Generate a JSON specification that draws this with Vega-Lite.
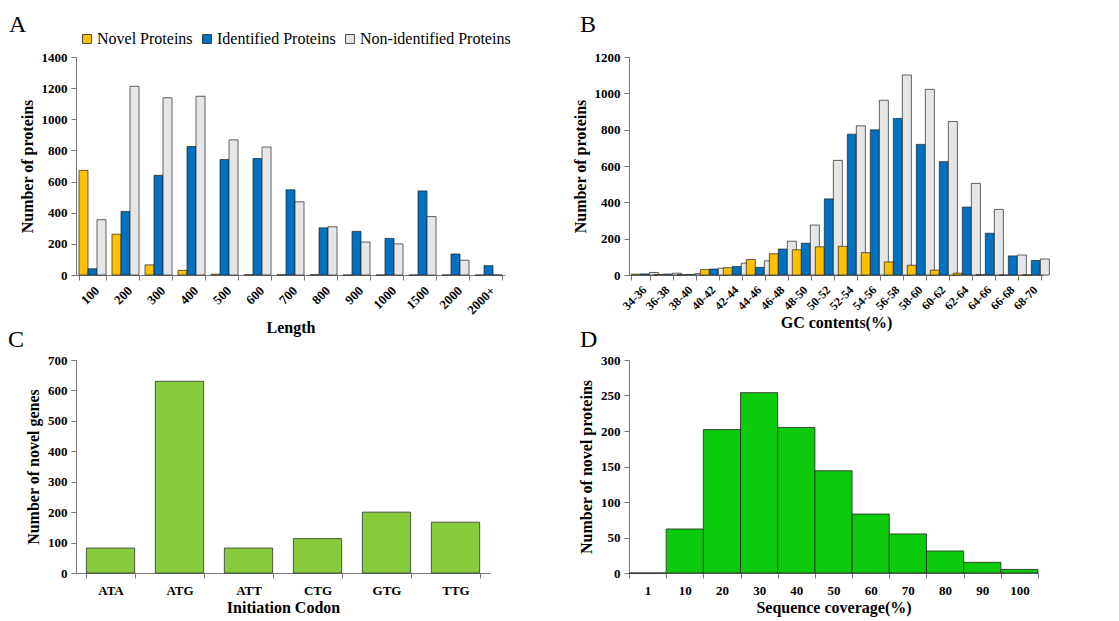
{
  "$schema": "https://vega.github.io/schema/vega-lite/v6.json",
  "background": "white",
  "padding": {"left": 8, "top": 13, "right": 5, "bottom": 5},
  "datasets": {
    "lengthData": [
      {"length": "100", "type": "Novel Proteins", "count": 672},
      {"length": "100", "type": "Identified Proteins", "count": 40},
      {"length": "100", "type": "Non-identified Proteins", "count": 355},
      {"length": "200", "type": "Novel Proteins", "count": 262},
      {"length": "200", "type": "Identified Proteins", "count": 408},
      {"length": "200", "type": "Non-identified Proteins", "count": 1212},
      {"length": "300", "type": "Novel Proteins", "count": 65},
      {"length": "300", "type": "Identified Proteins", "count": 640},
      {"length": "300", "type": "Non-identified Proteins", "count": 1138},
      {"length": "400", "type": "Novel Proteins", "count": 30},
      {"length": "400", "type": "Identified Proteins", "count": 825},
      {"length": "400", "type": "Non-identified Proteins", "count": 1148},
      {"length": "500", "type": "Novel Proteins", "count": 5},
      {"length": "500", "type": "Identified Proteins", "count": 742},
      {"length": "500", "type": "Non-identified Proteins", "count": 868},
      {"length": "600", "type": "Novel Proteins", "count": 2},
      {"length": "600", "type": "Identified Proteins", "count": 748},
      {"length": "600", "type": "Non-identified Proteins", "count": 822},
      {"length": "700", "type": "Novel Proteins", "count": 2},
      {"length": "700", "type": "Identified Proteins", "count": 547},
      {"length": "700", "type": "Non-identified Proteins", "count": 470},
      {"length": "800", "type": "Novel Proteins", "count": 2},
      {"length": "800", "type": "Identified Proteins", "count": 303},
      {"length": "800", "type": "Non-identified Proteins", "count": 310},
      {"length": "900", "type": "Novel Proteins", "count": 0},
      {"length": "900", "type": "Identified Proteins", "count": 280},
      {"length": "900", "type": "Non-identified Proteins", "count": 212},
      {"length": "1000", "type": "Novel Proteins", "count": 0},
      {"length": "1000", "type": "Identified Proteins", "count": 235},
      {"length": "1000", "type": "Non-identified Proteins", "count": 200},
      {"length": "1500", "type": "Novel Proteins", "count": 0},
      {"length": "1500", "type": "Identified Proteins", "count": 540},
      {"length": "1500", "type": "Non-identified Proteins", "count": 375},
      {"length": "2000", "type": "Novel Proteins", "count": 0},
      {"length": "2000", "type": "Identified Proteins", "count": 135},
      {"length": "2000", "type": "Non-identified Proteins", "count": 95},
      {"length": "2000+", "type": "Novel Proteins", "count": 0},
      {"length": "2000+", "type": "Identified Proteins", "count": 60},
      {"length": "2000+", "type": "Non-identified Proteins", "count": 0}
    ],
    "gcData": [
      {"gc": "34-36", "type": "Novel Proteins", "count": 5},
      {"gc": "34-36", "type": "Identified Proteins", "count": 6},
      {"gc": "34-36", "type": "Non-identified Proteins", "count": 14},
      {"gc": "36-38", "type": "Novel Proteins", "count": 3},
      {"gc": "36-38", "type": "Identified Proteins", "count": 5},
      {"gc": "36-38", "type": "Non-identified Proteins", "count": 10},
      {"gc": "38-40", "type": "Novel Proteins", "count": 2},
      {"gc": "38-40", "type": "Identified Proteins", "count": 3},
      {"gc": "38-40", "type": "Non-identified Proteins", "count": 8},
      {"gc": "40-42", "type": "Novel Proteins", "count": 30},
      {"gc": "40-42", "type": "Identified Proteins", "count": 33},
      {"gc": "40-42", "type": "Non-identified Proteins", "count": 37},
      {"gc": "42-44", "type": "Novel Proteins", "count": 40},
      {"gc": "42-44", "type": "Identified Proteins", "count": 47},
      {"gc": "42-44", "type": "Non-identified Proteins", "count": 65},
      {"gc": "44-46", "type": "Novel Proteins", "count": 85},
      {"gc": "44-46", "type": "Identified Proteins", "count": 42},
      {"gc": "44-46", "type": "Non-identified Proteins", "count": 78},
      {"gc": "46-48", "type": "Novel Proteins", "count": 117},
      {"gc": "46-48", "type": "Identified Proteins", "count": 143},
      {"gc": "46-48", "type": "Non-identified Proteins", "count": 186},
      {"gc": "48-50", "type": "Novel Proteins", "count": 139},
      {"gc": "48-50", "type": "Identified Proteins", "count": 175},
      {"gc": "48-50", "type": "Non-identified Proteins", "count": 275},
      {"gc": "50-52", "type": "Novel Proteins", "count": 155},
      {"gc": "50-52", "type": "Identified Proteins", "count": 419},
      {"gc": "50-52", "type": "Non-identified Proteins", "count": 631},
      {"gc": "52-54", "type": "Novel Proteins", "count": 158},
      {"gc": "52-54", "type": "Identified Proteins", "count": 775},
      {"gc": "52-54", "type": "Non-identified Proteins", "count": 821},
      {"gc": "54-56", "type": "Novel Proteins", "count": 123},
      {"gc": "54-56", "type": "Identified Proteins", "count": 799},
      {"gc": "54-56", "type": "Non-identified Proteins", "count": 962},
      {"gc": "56-58", "type": "Novel Proteins", "count": 72},
      {"gc": "56-58", "type": "Identified Proteins", "count": 862},
      {"gc": "56-58", "type": "Non-identified Proteins", "count": 1101},
      {"gc": "58-60", "type": "Novel Proteins", "count": 54},
      {"gc": "58-60", "type": "Identified Proteins", "count": 719},
      {"gc": "58-60", "type": "Non-identified Proteins", "count": 1022},
      {"gc": "60-62", "type": "Novel Proteins", "count": 27},
      {"gc": "60-62", "type": "Identified Proteins", "count": 624},
      {"gc": "60-62", "type": "Non-identified Proteins", "count": 845},
      {"gc": "62-64", "type": "Novel Proteins", "count": 10},
      {"gc": "62-64", "type": "Identified Proteins", "count": 374},
      {"gc": "62-64", "type": "Non-identified Proteins", "count": 504},
      {"gc": "64-66", "type": "Novel Proteins", "count": 2},
      {"gc": "64-66", "type": "Identified Proteins", "count": 230},
      {"gc": "64-66", "type": "Non-identified Proteins", "count": 361},
      {"gc": "66-68", "type": "Novel Proteins", "count": 0},
      {"gc": "66-68", "type": "Identified Proteins", "count": 105},
      {"gc": "66-68", "type": "Non-identified Proteins", "count": 110},
      {"gc": "68-70", "type": "Novel Proteins", "count": 1},
      {"gc": "68-70", "type": "Identified Proteins", "count": 80},
      {"gc": "68-70", "type": "Non-identified Proteins", "count": 88}
    ],
    "codonData": [
      {"codon": "ATA", "count": 82},
      {"codon": "ATG", "count": 630},
      {"codon": "ATT", "count": 82},
      {"codon": "CTG", "count": 113},
      {"codon": "GTG", "count": 200},
      {"codon": "TTG", "count": 167}
    ],
    "coverageData": [
      {"coverage": "1", "count": 0},
      {"coverage": "10", "count": 62},
      {"coverage": "20", "count": 202},
      {"coverage": "30", "count": 254},
      {"coverage": "40", "count": 205},
      {"coverage": "50", "count": 144},
      {"coverage": "60", "count": 83},
      {"coverage": "70", "count": 55},
      {"coverage": "80", "count": 31},
      {"coverage": "90", "count": 15},
      {"coverage": "100", "count": 5}
    ]
  },
  "config": {
    "font": "Liberation Serif",
    "view": {"stroke": null},
    "style": {
      "guide-label": {"font": "Liberation Serif", "fill": "#000"},
      "guide-title": {"font": "Liberation Serif", "fill": "#000"}
    },
    "axis": {
      "grid": false,
      "labelFont": "Liberation Serif",
      "labelFontWeight": "bold",
      "labelFontSize": 13,
      "labelColor": "#000",
      "labelFlush": false,
      "labelPadding": 4,
      "titleFont": "Liberation Serif",
      "titleFontWeight": "bold",
      "titleFontSize": 16,
      "titleColor": "#000",
      "domainColor": "#777",
      "tickColor": "#777",
      "tickSize": 5,
      "titlePadding": 6
    },
    "title": {"font": "Liberation Serif", "fontSize": 24, "fontWeight": "normal", "anchor": "start", "frame": "group", "color": "#000", "offset": 2},
    "legend": {
      "labelFont": "Liberation Serif",
      "labelFontSize": 16,
      "labelColor": "#000",
      "symbolType": "square",
      "symbolSize": 80,
      "symbolStrokeWidth": 0.8,
      "columnPadding": 6,
      "labelOffset": 2
    }
  },
  "columns": 2,
  "bounds": "flush",
  "spacing": {"row": 85, "column": 124},
  "concat": [
    {
      "title": {"text": "A", "dx": -67, "offset": 14},
      "width": 429,
      "height": 218,
      "data": {"name": "lengthData"},
      "mark": {"type": "bar", "stroke": "#222", "strokeWidth": 0.7},
      "encoding": {
        "x": {"field": "length", "type": "nominal", "sort": null,
              "scale": {"paddingInner": 0.18, "paddingOuter": 0.09},
              "axis": {"title": "Length", "labelAngle": -45, "tickBand": "extent", "titlePadding": 3}},
        "xOffset": {"field": "type", "type": "nominal", "sort": ["Novel Proteins", "Identified Proteins", "Non-identified Proteins"]},
        "y": {"field": "count", "type": "quantitative",
              "scale": {"domain": [0, 1400], "nice": false},
              "axis": {"title": "Number of proteins", "format": "d", "values": [0, 200, 400, 600, 800, 1000, 1200, 1400]}},
        "color": {"field": "type", "type": "nominal",
                  "scale": {"domain": ["Novel Proteins", "Identified Proteins", "Non-identified Proteins"], "range": ["#FFC000", "#0070C0", "#E6E6E6"]},
                  "legend": {"title": null, "orient": "none", "direction": "horizontal", "legendX": 3, "legendY": -26}}
      }
    },
    {
      "title": {"text": "B", "dx": -49, "offset": 14},
      "width": 414,
      "height": 218,
      "data": {"name": "gcData"},
      "mark": {"type": "bar", "stroke": "#222", "strokeWidth": 0.7},
      "encoding": {
        "x": {"field": "gc", "type": "nominal", "sort": null,
              "scale": {"paddingInner": 0.2, "paddingOuter": 0.1},
              "axis": {"title": "GC contents(%)", "labelAngle": -45, "labelFontSize": 12, "tickBand": "extent", "titlePadding": 3}},
        "xOffset": {"field": "type", "type": "nominal", "sort": ["Novel Proteins", "Identified Proteins", "Non-identified Proteins"]},
        "y": {"field": "count", "type": "quantitative",
              "scale": {"domain": [0, 1200], "nice": false},
              "axis": {"title": "Number of proteins", "format": "d", "values": [0, 200, 400, 600, 800, 1000, 1200]}},
        "color": {"field": "type", "type": "nominal",
                  "scale": {"domain": ["Novel Proteins", "Identified Proteins", "Non-identified Proteins"], "range": ["#FFC000", "#0070C0", "#E6E6E6"]},
                  "legend": {"title": null, "orient": "none", "direction": "horizontal", "legendX": -4, "legendY": -26}}
      }
    },
    {
      "title": {"text": "C", "dx": -68},
      "width": 414,
      "height": 213,
      "data": {"name": "codonData"},
      "mark": {"type": "bar", "fill": "#86CC3C", "stroke": "#333", "strokeWidth": 0.8},
      "encoding": {
        "x": {"field": "codon", "type": "nominal", "sort": null,
              "scale": {"paddingInner": 0.3, "paddingOuter": 0.15},
              "axis": {"title": "Initiation Codon", "labelAngle": 0, "tickBand": "extent", "labelPadding": 6, "titlePadding": 2}},
        "y": {"field": "count", "type": "quantitative",
              "scale": {"domain": [0, 700], "nice": false},
              "axis": {"title": "Number of novel genes", "format": "d", "values": [0, 100, 200, 300, 400, 500, 600, 700]}}
      }
    },
    {
      "title": {"text": "D", "dx": -49},
      "width": 409,
      "height": 213,
      "data": {"name": "coverageData"},
      "mark": {"type": "bar", "fill": "#0CCB0C", "stroke": "#222", "strokeWidth": 0.8},
      "encoding": {
        "x": {"field": "coverage", "type": "nominal", "sort": null,
              "scale": {"paddingInner": 0, "paddingOuter": 0},
              "axis": {"title": "Sequence coverage(%)", "labelAngle": 0, "tickBand": "extent", "labelPadding": 6, "titlePadding": 2}},
        "y": {"field": "count", "type": "quantitative",
              "scale": {"domain": [0, 300], "nice": false},
              "axis": {"title": "Number of novel proteins", "format": "d", "values": [0, 50, 100, 150, 200, 250, 300]}}
      }
    }
  ]
}
